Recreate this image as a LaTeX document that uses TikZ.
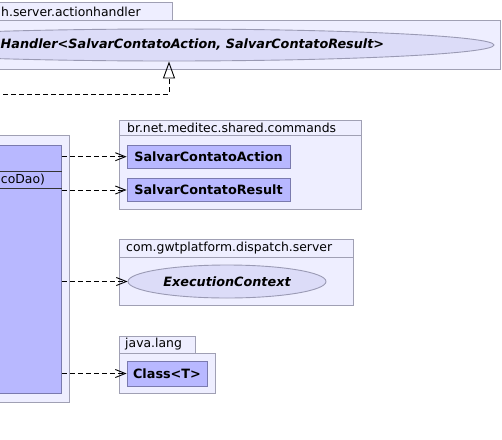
\documentclass[tikz,border=0pt]{standalone}
\usepackage{fontspec}
\setmainfont{DejaVu Sans}
\usetikzlibrary{arrows.meta,shapes.geometric}
\definecolor{pkgfill}{HTML}{EEEEFF}
\definecolor{pkgdraw}{HTML}{A0A0B4}
\definecolor{clsfill}{HTML}{B8B8FF}
\definecolor{clsdraw}{HTML}{7A7AAE}
\definecolor{ifill}{HTML}{DCDCF8}
\definecolor{idraw}{HTML}{9A9AB4}
\tikzset{
  regfont/.style={font=\fontsize{12.4}{14}\selectfont},
  pkgbody/.style={draw=pkgdraw, fill=pkgfill, line width=0.9pt, rectangle, anchor=north west, inner sep=0pt},
  pkgtab/.style={draw=pkgdraw, fill=pkgfill, line width=0.9pt, rectangle, anchor=north west, inner sep=0pt},
  pkglabel/.style={anchor=west, inner sep=0pt, regfont},
  clsbox/.style={draw=clsdraw, fill=clsfill, line width=0.9pt, rectangle, inner sep=0pt, font=\bfseries\fontsize{12.8}{14}\selectfont},
  ifbox/.style={draw=idraw, fill=ifill, line width=0.9pt, ellipse, inner sep=0pt, font=\bfseries\itshape\fontsize{12.8}{14}\selectfont},
  dep/.style={dash pattern=on 5pt off 3pt, line width=0.9pt, -{Straight Barb[length=10pt,width=8pt,line width=0.9pt]}},
  realize/.style={dash pattern=on 5pt off 3pt, line width=0.9pt, -{Triangle[open,length=17pt,width=12pt,line width=0.9pt]}}
}
\begin{document}
\begin{tikzpicture}[x=1pt,y=-1pt]
\useasboundingbox (0,0) rectangle (502,439);
\fill[white] (0,0) rectangle (502,439);
\clip (0,0) rectangle (502,439);

% package actionhandler
\node[pkgtab, minimum width=192pt, minimum height=18pt] (ahtab) at (-20,2) {};
\node[pkglabel] (ahlabel) at (1,11.5) {h.server.actionhandler};
\node[pkgbody, minimum width=520pt, minimum height=49pt] (ahbody) at (-20,20) {};
\node[ifbox, minimum width=650pt, minimum height=32pt] (iface) at (169,45) {};
\node[anchor=west, inner sep=0pt, font=\bfseries\itshape\fontsize{12.8}{14}\selectfont] (ifacelabel) at (0.5,45) {Handler<SalvarContatoAction, SalvarContatoResult>};

% left package with main class
\node[pkgbody, minimum width=89pt, minimum height=267pt] (mainpkg) at (-20,135) {};
\node[clsbox, anchor=north west, minimum width=81pt, minimum height=248pt] (main) at (-20,145) {};
\draw[black!80, line width=0.9pt] (main.west |- 0,171) -- (main.east |- 0,171);
\draw[black!80, line width=0.9pt] (main.west |- 0,188) -- (main.east |- 0,188);
\node[anchor=west, inner sep=0pt, regfont] (member) at (0.8,180) {coDao)};

% package commands
\node[pkgtab, minimum width=242pt, minimum height=15pt] (cmdtab) at (119,120) {};
\node[pkglabel] (cmdlabel) at (127,127.5) {br.net.meditec.shared.commands};
\node[pkgbody, minimum width=242pt, minimum height=74pt] (cmdbody) at (119,135) {};
\node[clsbox, minimum width=163pt, minimum height=22.5pt] (action) at (208.5,156.7) {SalvarContatoAction};
\node[clsbox, minimum width=163pt, minimum height=22.5pt] (result) at (208.5,190) {SalvarContatoResult};

% package gwtplatform
\node[pkgtab, minimum width=234pt, minimum height=18pt] (gwttab) at (119,239) {};
\node[pkglabel] (gwtlabel) at (126,248) {com.gwtplatform.dispatch.server};
\node[pkgbody, minimum width=234pt, minimum height=48pt] (gwtbody) at (119,257) {};
\node[ifbox, minimum width=198pt, minimum height=33pt] (exec) at (227,281.5) {ExecutionContext};

% package java.lang
\node[pkgtab, minimum width=76pt, minimum height=17pt] (jltab) at (119,336) {};
\node[pkglabel] (jllabel) at (125,344.5) {java.lang};
\node[pkgbody, minimum width=96pt, minimum height=40pt] (jlbody) at (119,353) {};
\node[clsbox, minimum width=80pt, minimum height=25pt] (cls) at (167,373.5) {Class<T>};

% dependencies
\draw[dep] (main.east |- action.west) -- (action.west);
\draw[dep] (main.east |- result.west) -- (result.west);
\draw[dep] (main.east |- exec.west) -- (exec.west);
\draw[dep] (main.east |- cls.west) -- (cls.west);

% realization
\coordinate (implsrc) at (-5,94);
\draw[realize] (implsrc) -- (iface.south |- implsrc) -- (iface.south);
\end{tikzpicture}
\end{document}
